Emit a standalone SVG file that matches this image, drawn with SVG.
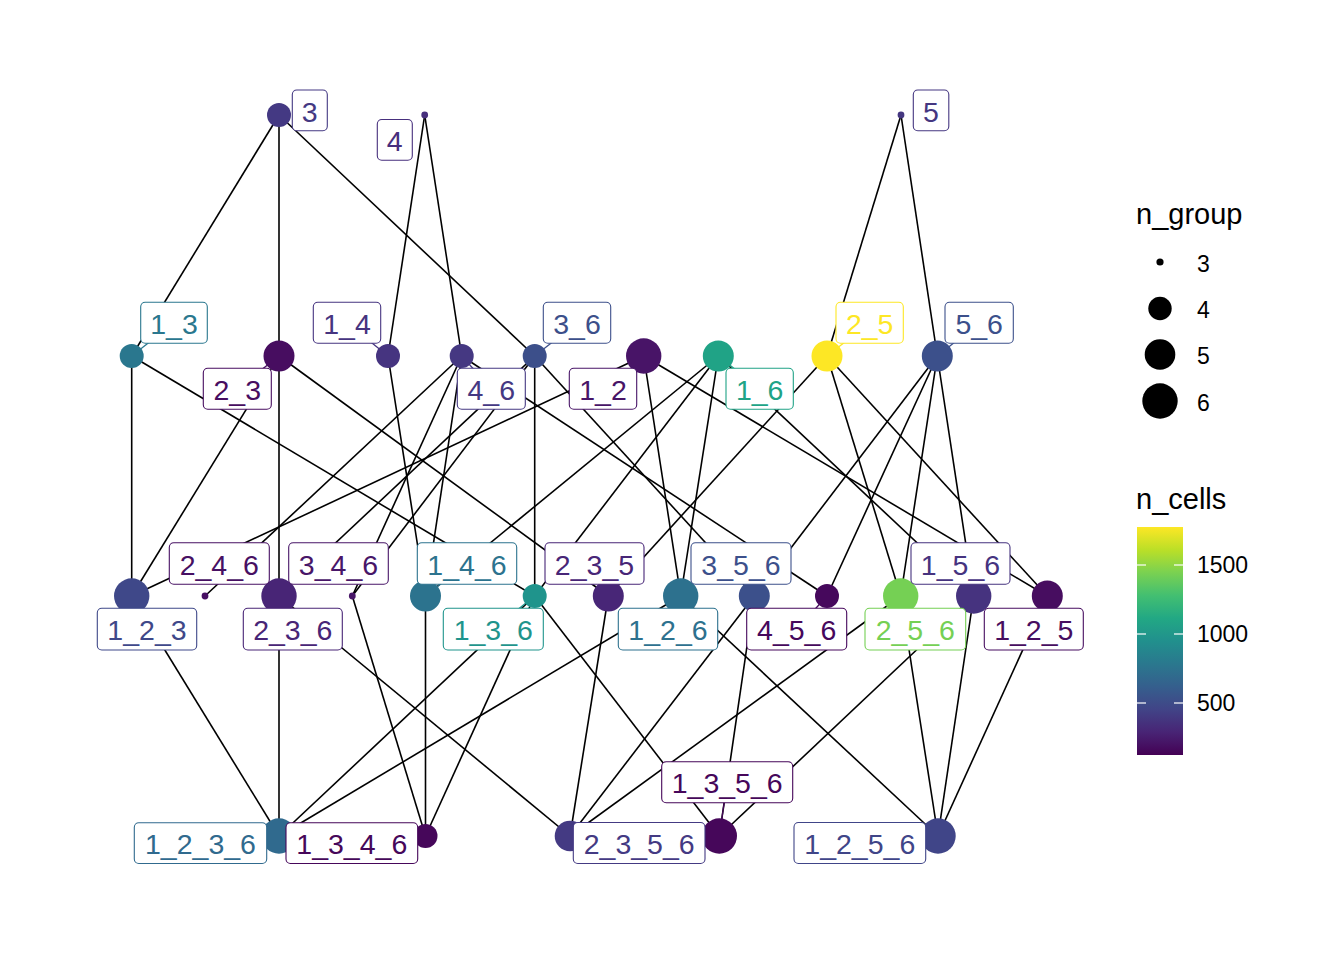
<svg xmlns="http://www.w3.org/2000/svg" width="1344" height="960" viewBox="0 0 1344 960">
<defs>
<linearGradient id="viridis" x1="0" y1="1" x2="0" y2="0">
<stop offset="0" stop-color="#440154"/>
<stop offset="0.1" stop-color="#482475"/>
<stop offset="0.2" stop-color="#414487"/>
<stop offset="0.3" stop-color="#355F8D"/>
<stop offset="0.4" stop-color="#2A788E"/>
<stop offset="0.5" stop-color="#21908D"/>
<stop offset="0.6" stop-color="#22A884"/>
<stop offset="0.7" stop-color="#43BF71"/>
<stop offset="0.8" stop-color="#7AD151"/>
<stop offset="0.9" stop-color="#BBDF27"/>
<stop offset="1" stop-color="#FDE725"/>
</linearGradient>
</defs>
<style>
.edge{stroke:#000;stroke-width:1.6;fill:none}
.seg{stroke-width:1.3;fill:none}
.box{fill:#fff;stroke-width:1.1}
.lt{font-family:"Liberation Sans",Arial,sans-serif;font-size:28.5px;text-anchor:middle}
.leg{font-family:"Liberation Sans",Arial,sans-serif;font-size:23px;fill:#000}
.legt{font-family:"Liberation Sans",Arial,sans-serif;font-size:29px;fill:#000}
.tick{stroke:#fff;stroke-width:1.2}
</style>
<rect width="1344" height="960" fill="#fff"/>
<g id="connectors">
<line class="edge" x1="279" y1="115" x2="131.7" y2="356"/>
<line class="edge" x1="279" y1="115" x2="279" y2="356"/>
<line class="edge" x1="279" y1="115" x2="534.7" y2="356"/>
<line class="edge" x1="424.7" y1="115" x2="388" y2="356"/>
<line class="edge" x1="424.7" y1="115" x2="461.7" y2="356"/>
<line class="edge" x1="901" y1="115" x2="827" y2="356"/>
<line class="edge" x1="901" y1="115" x2="937.3" y2="356"/>
<line class="edge" x1="131.7" y1="356" x2="131.7" y2="596"/>
<line class="edge" x1="131.7" y1="356" x2="534.7" y2="596"/>
<line class="edge" x1="279" y1="356" x2="131.7" y2="596"/>
<line class="edge" x1="279" y1="356" x2="279" y2="596"/>
<line class="edge" x1="279" y1="356" x2="608.3" y2="596"/>
<line class="edge" x1="388" y1="356" x2="425.5" y2="596"/>
<line class="edge" x1="461.7" y1="356" x2="205" y2="596"/>
<line class="edge" x1="461.7" y1="356" x2="352.3" y2="596"/>
<line class="edge" x1="461.7" y1="356" x2="425.5" y2="596"/>
<line class="edge" x1="461.7" y1="356" x2="827" y2="596"/>
<line class="edge" x1="534.7" y1="356" x2="279" y2="596"/>
<line class="edge" x1="534.7" y1="356" x2="352.3" y2="596"/>
<line class="edge" x1="534.7" y1="356" x2="534.7" y2="596"/>
<line class="edge" x1="534.7" y1="356" x2="754.3" y2="596"/>
<line class="edge" x1="643.7" y1="356" x2="131.7" y2="596"/>
<line class="edge" x1="643.7" y1="356" x2="680.7" y2="596"/>
<line class="edge" x1="643.7" y1="356" x2="1047.3" y2="596"/>
<line class="edge" x1="718.3" y1="356" x2="425.5" y2="596"/>
<line class="edge" x1="718.3" y1="356" x2="534.7" y2="596"/>
<line class="edge" x1="718.3" y1="356" x2="680.7" y2="596"/>
<line class="edge" x1="718.3" y1="356" x2="973.7" y2="596"/>
<line class="edge" x1="827" y1="356" x2="608.3" y2="596"/>
<line class="edge" x1="827" y1="356" x2="900.7" y2="596"/>
<line class="edge" x1="827" y1="356" x2="1047.3" y2="596"/>
<line class="edge" x1="937.3" y1="356" x2="754.3" y2="596"/>
<line class="edge" x1="937.3" y1="356" x2="827" y2="596"/>
<line class="edge" x1="937.3" y1="356" x2="900.7" y2="596"/>
<line class="edge" x1="937.3" y1="356" x2="973.7" y2="596"/>
<line class="edge" x1="131.7" y1="596" x2="279" y2="836"/>
<line class="edge" x1="279" y1="596" x2="279" y2="836"/>
<line class="edge" x1="534.7" y1="596" x2="279" y2="836"/>
<line class="edge" x1="680.7" y1="596" x2="279" y2="836"/>
<line class="edge" x1="534.7" y1="596" x2="425.5" y2="836"/>
<line class="edge" x1="425.5" y1="596" x2="425.5" y2="836"/>
<line class="edge" x1="352.3" y1="596" x2="425.5" y2="836"/>
<line class="edge" x1="608.3" y1="596" x2="570" y2="836"/>
<line class="edge" x1="279" y1="596" x2="570" y2="836"/>
<line class="edge" x1="754.3" y1="596" x2="570" y2="836"/>
<line class="edge" x1="900.7" y1="596" x2="570" y2="836"/>
<line class="edge" x1="534.7" y1="596" x2="719.3" y2="836"/>
<line class="edge" x1="754.3" y1="596" x2="719.3" y2="836"/>
<line class="edge" x1="973.7" y1="596" x2="719.3" y2="836"/>
<line class="edge" x1="1047.3" y1="596" x2="938" y2="836"/>
<line class="edge" x1="680.7" y1="596" x2="938" y2="836"/>
<line class="edge" x1="973.7" y1="596" x2="938" y2="836"/>
<line class="edge" x1="900.7" y1="596" x2="938" y2="836"/>
</g>
<g id="label-segments">
<line class="seg" stroke="#2A778E" x1="174" y1="322.8" x2="131.7" y2="356"/>
<line class="seg" stroke="#463480" x1="347" y1="322.8" x2="388" y2="356"/>
<line class="seg" stroke="#3C4F8A" x1="577" y1="322.8" x2="534.7" y2="356"/>
<line class="seg" stroke="#470D60" x1="237.3" y1="388.8" x2="279" y2="356"/>
<line class="seg" stroke="#453882" x1="491.3" y1="388.8" x2="461.7" y2="356"/>
<line class="seg" stroke="#20A386" x1="759.7" y1="388.8" x2="718.3" y2="356"/>
<line class="seg" stroke="#FDE725" x1="869.7" y1="322.8" x2="827" y2="356"/>
<line class="seg" stroke="#3C508B" x1="979.2" y1="322.8" x2="937.3" y2="356"/>
<line class="seg" stroke="#2C738E" x1="467" y1="563.5" x2="425.5" y2="596"/>
<line class="seg" stroke="#1F948C" x1="493.3" y1="629.2" x2="534.7" y2="596"/>
<line class="seg" stroke="#46085C" x1="796.7" y1="629.2" x2="827" y2="596"/>
<line class="seg" stroke="#46075A" x1="727.2" y1="782.2" x2="719.3" y2="836"/>
</g>
<g id="nodes">
<g id="node-3"><circle cx="279" cy="115" r="12" fill="#443983"/></g>
<g id="node-4"><circle cx="424.7" cy="115" r="3.4" fill="#472F7D"/></g>
<g id="node-5"><circle cx="901" cy="115" r="3.4" fill="#453781"/></g>
<g id="node-1_3"><circle cx="131.7" cy="356" r="12" fill="#2A778E"/></g>
<g id="node-2_3"><circle cx="279" cy="356" r="15.5" fill="#470D60"/></g>
<g id="node-1_4"><circle cx="388" cy="356" r="12" fill="#463480"/></g>
<g id="node-4_6"><circle cx="461.7" cy="356" r="12" fill="#453882"/></g>
<g id="node-3_6"><circle cx="534.7" cy="356" r="12" fill="#3C4F8A"/></g>
<g id="node-1_2"><circle cx="643.7" cy="356" r="17.7" fill="#481467"/></g>
<g id="node-1_6"><circle cx="718.3" cy="356" r="15.5" fill="#20A386"/></g>
<g id="node-2_5"><circle cx="827" cy="356" r="15.5" fill="#FDE725"/></g>
<g id="node-5_6"><circle cx="937.3" cy="356" r="15.5" fill="#3C508B"/></g>
<g id="node-1_2_3"><circle cx="131.7" cy="596" r="17.7" fill="#3F4889"/></g>
<g id="node-2_4_6"><circle cx="205" cy="596" r="3.4" fill="#471063"/></g>
<g id="node-2_3_6"><circle cx="279" cy="596" r="17.7" fill="#482576"/></g>
<g id="node-3_4_6"><circle cx="352.3" cy="596" r="3.4" fill="#481668"/></g>
<g id="node-1_4_6"><circle cx="425.5" cy="596" r="15.5" fill="#2C738E"/></g>
<g id="node-1_3_6"><circle cx="534.7" cy="596" r="12" fill="#1F948C"/></g>
<g id="node-2_3_5"><circle cx="608.3" cy="596" r="15.5" fill="#482677"/></g>
<g id="node-1_2_6"><circle cx="680.7" cy="596" r="17.7" fill="#2D718E"/></g>
<g id="node-3_5_6"><circle cx="754.3" cy="596" r="15.5" fill="#3C508B"/></g>
<g id="node-4_5_6"><circle cx="827" cy="596" r="12" fill="#46085C"/></g>
<g id="node-2_5_6"><circle cx="900.7" cy="596" r="17.7" fill="#75D054"/></g>
<g id="node-1_5_6"><circle cx="973.7" cy="596" r="17.7" fill="#46337F"/></g>
<g id="node-1_2_5"><circle cx="1047.3" cy="596" r="15.5" fill="#470D60"/></g>
<g id="node-1_2_3_6"><circle cx="279" cy="836" r="17.7" fill="#306A8E"/></g>
<g id="node-1_3_4_6"><circle cx="425.5" cy="836" r="12" fill="#46075A"/></g>
<g id="node-2_3_5_6"><circle cx="570" cy="836" r="15.3" fill="#443A83"/></g>
<g id="node-1_3_5_6"><circle cx="719.3" cy="836" r="17.7" fill="#46075A"/></g>
<g id="node-1_2_5_6"><circle cx="938" cy="836" r="17.7" fill="#404588"/></g>
</g>
<g id="labels">
<g id="label-3"><rect class="box" stroke="#443983" x="292.3" y="90" width="35" height="40.8" rx="4.5"/><text class="lt" fill="#443983" x="309.8" y="121.5">3</text></g>
<g id="label-4"><rect class="box" stroke="#472F7D" x="377.3" y="119.5" width="35" height="40.8" rx="4.5"/><text class="lt" fill="#472F7D" x="394.8" y="151">4</text></g>
<g id="label-5"><rect class="box" stroke="#453781" x="913.3" y="90" width="35.5" height="40.8" rx="4.5"/><text class="lt" fill="#453781" x="931" y="121.5">5</text></g>
<g id="label-1_3"><rect class="box" stroke="#2A778E" x="140.7" y="302.3" width="66.6" height="41" rx="4.5"/><text class="lt" fill="#2A778E" x="174" y="333.8">1_3</text></g>
<g id="label-1_4"><rect class="box" stroke="#463480" x="313.3" y="302.3" width="67.4" height="41" rx="4.5"/><text class="lt" fill="#463480" x="347" y="333.8">1_4</text></g>
<g id="label-3_6"><rect class="box" stroke="#3C4F8A" x="543.3" y="302.3" width="67.4" height="41" rx="4.5"/><text class="lt" fill="#3C4F8A" x="577" y="333.8">3_6</text></g>
<g id="label-2_5"><rect class="box" stroke="#FDE725" x="836" y="302.3" width="67.3" height="41" rx="4.5"/><text class="lt" fill="#FDE725" x="869.7" y="333.8">2_5</text></g>
<g id="label-5_6"><rect class="box" stroke="#3C508B" x="945" y="302.3" width="68.3" height="41" rx="4.5"/><text class="lt" fill="#3C508B" x="979.2" y="333.8">5_6</text></g>
<g id="label-2_3"><rect class="box" stroke="#470D60" x="203.3" y="368.3" width="68" height="41" rx="4.5"/><text class="lt" fill="#470D60" x="237.3" y="399.8">2_3</text></g>
<g id="label-4_6"><rect class="box" stroke="#453882" x="457.3" y="368.3" width="68" height="41" rx="4.5"/><text class="lt" fill="#453882" x="491.3" y="399.8">4_6</text></g>
<g id="label-1_2"><rect class="box" stroke="#481467" x="569.3" y="368.3" width="67.4" height="41" rx="4.5"/><text class="lt" fill="#481467" x="603" y="399.8">1_2</text></g>
<g id="label-1_6"><rect class="box" stroke="#20A386" x="726" y="368.3" width="67.3" height="41" rx="4.5"/><text class="lt" fill="#20A386" x="759.7" y="399.8">1_6</text></g>
<g id="label-2_4_6"><rect class="box" stroke="#471063" x="169.3" y="542.7" width="100" height="41.6" rx="4.5"/><text class="lt" fill="#471063" x="219.3" y="574.5">2_4_6</text></g>
<g id="label-3_4_6"><rect class="box" stroke="#481668" x="288.7" y="542.7" width="99.6" height="41.6" rx="4.5"/><text class="lt" fill="#481668" x="338.5" y="574.5">3_4_6</text></g>
<g id="label-1_4_6"><rect class="box" stroke="#2C738E" x="417.3" y="542.7" width="99.4" height="41.6" rx="4.5"/><text class="lt" fill="#2C738E" x="467" y="574.5">1_4_6</text></g>
<g id="label-2_3_5"><rect class="box" stroke="#482677" x="545" y="542.7" width="99" height="41.6" rx="4.5"/><text class="lt" fill="#482677" x="594.5" y="574.5">2_3_5</text></g>
<g id="label-3_5_6"><rect class="box" stroke="#3C508B" x="691" y="542.7" width="100" height="41.6" rx="4.5"/><text class="lt" fill="#3C508B" x="741" y="574.5">3_5_6</text></g>
<g id="label-1_5_6"><rect class="box" stroke="#46337F" x="911" y="542.7" width="99" height="41.6" rx="4.5"/><text class="lt" fill="#46337F" x="960.5" y="574.5">1_5_6</text></g>
<g id="label-1_2_3"><rect class="box" stroke="#3F4889" x="97.3" y="608.3" width="99.4" height="41.7" rx="4.5"/><text class="lt" fill="#3F4889" x="147" y="640">1_2_3</text></g>
<g id="label-2_3_6"><rect class="box" stroke="#482576" x="243.3" y="608.3" width="99" height="41.7" rx="4.5"/><text class="lt" fill="#482576" x="292.8" y="640">2_3_6</text></g>
<g id="label-1_3_6"><rect class="box" stroke="#1F948C" x="443.3" y="608.3" width="100" height="41.7" rx="4.5"/><text class="lt" fill="#1F948C" x="493.3" y="640">1_3_6</text></g>
<g id="label-1_2_6"><rect class="box" stroke="#2D718E" x="618.3" y="608.3" width="99.4" height="41.7" rx="4.5"/><text class="lt" fill="#2D718E" x="668" y="640">1_2_6</text></g>
<g id="label-4_5_6"><rect class="box" stroke="#46085C" x="746.7" y="608.3" width="100" height="41.7" rx="4.5"/><text class="lt" fill="#46085C" x="796.7" y="640">4_5_6</text></g>
<g id="label-2_5_6"><rect class="box" stroke="#75D054" x="865" y="608.3" width="100.7" height="41.7" rx="4.5"/><text class="lt" fill="#75D054" x="915.3" y="640">2_5_6</text></g>
<g id="label-1_2_5"><rect class="box" stroke="#470D60" x="984.3" y="608.3" width="99" height="41.7" rx="4.5"/><text class="lt" fill="#470D60" x="1033.8" y="640">1_2_5</text></g>
<g id="label-1_3_5_6"><rect class="box" stroke="#46075A" x="661.7" y="761.7" width="131" height="41" rx="4.5"/><text class="lt" fill="#46075A" x="727.2" y="793.2">1_3_5_6</text></g>
<g id="label-1_2_3_6"><rect class="box" stroke="#306A8E" x="134.3" y="822.7" width="132.4" height="40.8" rx="4.5"/><text class="lt" fill="#306A8E" x="200.5" y="854.2">1_2_3_6</text></g>
<g id="label-1_3_4_6"><rect class="box" stroke="#46075A" x="286" y="822.7" width="131.7" height="40.8" rx="4.5"/><text class="lt" fill="#46075A" x="351.8" y="854.2">1_3_4_6</text></g>
<g id="label-2_3_5_6"><rect class="box" stroke="#443A83" x="573.3" y="822.5" width="131.7" height="41" rx="4.5"/><text class="lt" fill="#443A83" x="639.2" y="854">2_3_5_6</text></g>
<g id="label-1_2_5_6"><rect class="box" stroke="#404588" x="794" y="822.5" width="131.7" height="41" rx="4.5"/><text class="lt" fill="#404588" x="859.8" y="854">1_2_5_6</text></g>
</g>
<g id="legend">
<text class="legt" x="1136" y="224">n_group</text>
<circle cx="1160" cy="262" r="3.6" fill="#000"/>
<circle cx="1160" cy="308.5" r="11.7" fill="#000"/>
<circle cx="1160" cy="354.5" r="15.3" fill="#000"/>
<circle cx="1160" cy="401" r="17.7" fill="#000"/>
<text class="leg" x="1197" y="272">3</text>
<text class="leg" x="1197" y="318">4</text>
<text class="leg" x="1197" y="364">5</text>
<text class="leg" x="1197" y="411">6</text>
<text class="legt" x="1136" y="509">n_cells</text>
<rect x="1137" y="527" width="46" height="228" fill="url(#viridis)"/>
<line class="tick" x1="1137" y1="565" x2="1146" y2="565"/>
<line class="tick" x1="1174" y1="565" x2="1183" y2="565"/>
<line class="tick" x1="1137" y1="634" x2="1146" y2="634"/>
<line class="tick" x1="1174" y1="634" x2="1183" y2="634"/>
<line class="tick" x1="1137" y1="703" x2="1146" y2="703"/>
<line class="tick" x1="1174" y1="703" x2="1183" y2="703"/>
<text class="leg" x="1197" y="573">1500</text>
<text class="leg" x="1197" y="642">1000</text>
<text class="leg" x="1197" y="711">500</text>
</g>
</svg>
